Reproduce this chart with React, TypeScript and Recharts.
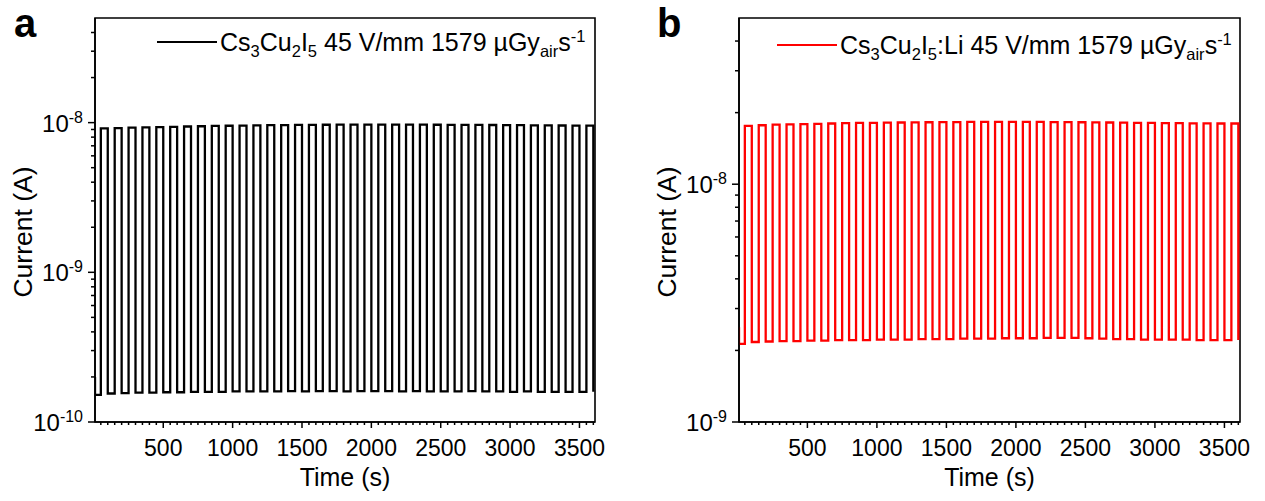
import React from 'react'
import { LineChart, Line, XAxis, YAxis, Legend, ReferenceArea } from 'recharts'

// x-ray on/off schedule (s)
const traceStartTime = 8
const pulseOnTimes = [
  50, 150, 250, 350, 450, 550, 650, 750, 850, 950, 1050, 1150,
  1250, 1350, 1450, 1550, 1650, 1750, 1850, 1950, 2050, 2150, 2250, 2350,
  2450, 2550, 2650, 2750, 2850, 2950, 3050, 3150, 3250, 3350, 3450, 3550
]
const pulseOffTimes = [
  100, 200, 300, 400, 500, 600, 700, 800, 900, 1000, 1100, 1200,
  1300, 1400, 1500, 1600, 1700, 1800, 1900, 2000, 2100, 2200, 2300, 2400,
  2500, 2600, 2700, 2800, 2900, 3000, 3100, 3200, 3300, 3400, 3500, 3600
]

// panel a: Cs3Cu2I5 (A)
const aStartCurrent = 2.0e-10
const aPulseCurrent = [
  9.15e-9, 9.2e-9, 9.25e-9, 9.3e-9, 9.34e-9, 9.38e-9, 9.42e-9, 9.46e-9, 9.5e-9, 9.53e-9, 9.56e-9, 9.59e-9,
  9.61e-9, 9.63e-9, 9.65e-9, 9.67e-9, 9.68e-9, 9.69e-9, 9.7e-9, 9.7e-9, 9.7e-9, 9.7e-9, 9.69e-9, 9.69e-9,
  9.68e-9, 9.67e-9, 9.66e-9, 9.65e-9, 9.64e-9, 9.62e-9, 9.61e-9, 9.6e-9, 9.58e-9, 9.57e-9, 9.56e-9, 9.55e-9
]
const aBaseCurrent = [
  1.52e-10, 1.55e-10, 1.56e-10, 1.57e-10, 1.57e-10, 1.58e-10, 1.58e-10, 1.59e-10, 1.59e-10, 1.59e-10,
  1.6e-10, 1.6e-10, 1.6e-10, 1.6e-10, 1.61e-10, 1.6e-10, 1.61e-10, 1.61e-10, 1.6e-10, 1.61e-10,
  1.61e-10, 1.61e-10, 1.6e-10, 1.61e-10, 1.6e-10, 1.6e-10, 1.6e-10, 1.61e-10, 1.6e-10, 1.6e-10,
  1.59e-10, 1.6e-10, 1.59e-10, 1.59e-10, 1.59e-10, 1.59e-10, 1.59e-10
]

// panel b: Cs3Cu2I5:Li (A)
const bStartCurrent = 2.5e-9
const bPulseCurrent = [
  1.76e-8, 1.77e-8, 1.78e-8, 1.785e-8, 1.79e-8, 1.795e-8, 1.8e-8, 1.805e-8, 1.81e-8, 1.812e-8, 1.815e-8, 1.818e-8,
  1.82e-8, 1.822e-8, 1.824e-8, 1.826e-8, 1.828e-8, 1.83e-8, 1.83e-8, 1.83e-8, 1.83e-8, 1.828e-8, 1.826e-8, 1.824e-8,
  1.822e-8, 1.82e-8, 1.818e-8, 1.815e-8, 1.812e-8, 1.81e-8, 1.808e-8, 1.806e-8, 1.804e-8, 1.802e-8, 1.8e-8, 1.8e-8
]
const bBaseCurrent = [
  2.13e-9, 2.17e-9, 2.18e-9, 2.19e-9, 2.19e-9, 2.2e-9, 2.2e-9, 2.21e-9, 2.21e-9, 2.21e-9,
  2.22e-9, 2.22e-9, 2.22e-9, 2.23e-9, 2.23e-9, 2.23e-9, 2.24e-9, 2.24e-9, 2.24e-9, 2.25e-9,
  2.25e-9, 2.25e-9, 2.26e-9, 2.26e-9, 2.26e-9, 2.25e-9, 2.24e-9, 2.23e-9, 2.23e-9, 2.22e-9,
  2.22e-9, 2.22e-9, 2.22e-9, 2.21e-9, 2.21e-9, 2.21e-9, 2.21e-9
]

// axes
const xDomain = [8, 3612]
const xMajorTicks = [500, 1000, 1500, 2000, 2500, 3000, 3500]
const xMinorTicks = pulseOnTimes.concat(pulseOffTimes).filter(t => !xMajorTicks.includes(t))
const xTicks = xMajorTicks.concat(xMinorTicks).sort((p, q) => p - q)

const aYDomain = [1e-10, 5e-8]
const aYMajorTicks = [1e-10, 1e-9, 1e-8]
const aYExponents = ['-10', '-9', '-8']
const aYMinorTicks = [2e-10, 3e-10, 4e-10, 5e-10, 6e-10, 7e-10, 8e-10, 9e-10, 2e-9, 3e-9, 4e-9, 5e-9, 6e-9, 7e-9, 8e-9, 9e-9, 2e-8, 3e-8, 4e-8]

const bYDomain = [1e-9, 5e-8]
const bYMajorTicks = [1e-9, 1e-8]
const bYExponents = ['-9', '-8']
const bYMinorTicks = [2e-9, 3e-9, 4e-9, 5e-9, 6e-9, 7e-9, 8e-9, 9e-9, 2e-8, 3e-8, 4e-8]

const FONT = '"Liberation Sans", Arial, Helvetica, sans-serif'
const axisStroke = { stroke: '#000', strokeWidth: 1.6 }

function buildTrace(startCurrent: number, pulse: number[], base: number[]) {
  const pts = [
    { time: traceStartTime, current: startCurrent },
    { time: traceStartTime, current: base[0] }
  ]
  pulseOnTimes.forEach((tOn, i) => {
    pts.push({ time: tOn, current: base[i] })
    pts.push({ time: tOn, current: pulse[i] })
    pts.push({ time: pulseOffTimes[i], current: pulse[i] })
    pts.push({ time: pulseOffTimes[i], current: base[i + 1] })
  })
  return pts
}

const aTrace = buildTrace(aStartCurrent, aPulseCurrent, aBaseCurrent)
const bTrace = buildTrace(bStartCurrent, bPulseCurrent, bBaseCurrent)

const XTick = (props: any) => {
  const { x, y, payload } = props
  const major = xMajorTicks.includes(payload.value)
  return (
    <g>
      <line x1={x} x2={x} y1={y} y2={y + (major ? 6 : 3)} stroke="#000" strokeWidth={1.5} />
      {major && (
        <text x={x} y={y + 34} textAnchor="middle" fontSize={23} fill="#000" fontFamily={FONT}>
          {payload.value}
        </text>
      )}
    </g>
  )
}

const makeYTick = (majors: number[], exponents: string[]) => (props: any) => {
  const { x, y, payload } = props
  const idx = majors.indexOf(payload.value)
  const major = idx >= 0
  return (
    <g>
      <line x1={x} x2={x - (major ? 7 : 4)} y1={y} y2={y} stroke="#000" strokeWidth={1.5} />
      {major && (
        <text x={x - 12} y={y + 9} textAnchor="end" fontSize={24} fill="#000" fontFamily={FONT}>
          10<tspan dy={-9} fontSize={16}>{exponents[idx]}</tspan>
        </text>
      )}
    </g>
  )
}

const xTitle = (props: any) => {
  const vb = props.viewBox
  return (
    <text x={vb.x + vb.width / 2} y={vb.y + 64} textAnchor="middle" fontSize={25} fill="#000" fontFamily={FONT}>
      Time (s)
    </text>
  )
}

const yTitle = (props: any) => {
  const vb = props.viewBox
  const cx = vb.x + vb.width - 63
  const cy = 232
  return (
    <text x={cx} y={cy} transform={`rotate(-90, ${cx}, ${cy})`} textAnchor="middle" fontSize={26.5} fill="#000" fontFamily={FONT}>
      Current (A)
    </text>
  )
}

function LegendBox({ color, doped }: { color: string; doped: boolean }) {
  return (
    <svg width={480} height={50} style={{ overflow: 'visible' }}>
      <line x1={2} x2={62} y1={22} y2={22} stroke={color} strokeWidth={2.2} />
      <text x={65} y={31} fontSize={25} fill="#000" fontFamily={FONT}>
        Cs<tspan dy={6} fontSize={16.5}>3</tspan>
        <tspan dy={-6}>Cu</tspan>
        <tspan dy={6} fontSize={16.5}>2</tspan>
        <tspan dy={-6}>I</tspan>
        <tspan dy={6} fontSize={16.5}>5</tspan>
        <tspan dy={-6}>{doped ? ':Li 45 V/mm 1579 µGy' : ' 45 V/mm 1579 µGy'}</tspan>
        <tspan dy={6} fontSize={16.5}>air</tspan>
        <tspan dy={-6}>s</tspan>
        <tspan dy={-9} fontSize={16.5}>-1</tspan>
      </text>
    </svg>
  )
}

function Panel(props: {
  data: { time: number; current: number }[]
  color: string
  doped: boolean
  yDomain: number[]
  yMajor: number[]
  yMinor: number[]
  yExp: string[]
  width: number
  axisWidth: number
  rightMargin: number
  legendLeft: number
  legendTop: number
}) {
  const yTicks = props.yMajor.concat(props.yMinor).sort((p, q) => p - q)
  return (
    <LineChart
      width={props.width}
      height={501}
      data={props.data}
      margin={{ top: 18, right: props.rightMargin, bottom: 0, left: 0 }}
    >
      <XAxis
        dataKey="time"
        type="number"
        domain={xDomain}
        allowDataOverflow
        ticks={xTicks}
        interval={0}
        tick={XTick}
        tickLine={false}
        tickSize={0}
        tickMargin={0}
        height={79}
        axisLine={axisStroke}
        label={xTitle}
      />
      <YAxis
        scale="log"
        type="number"
        domain={props.yDomain}
        allowDataOverflow
        ticks={yTicks}
        interval={0}
        tick={makeYTick(props.yMajor, props.yExp)}
        tickLine={false}
        tickSize={0}
        tickMargin={0}
        width={props.axisWidth}
        axisLine={axisStroke}
        label={yTitle}
      />
      <ReferenceArea
        x1={xDomain[0]}
        x2={xDomain[1]}
        y1={props.yDomain[0]}
        y2={props.yDomain[1]}
        fill="none"
        fillOpacity={0}
        stroke="#000"
        strokeWidth={1.6}
        ifOverflow="visible"
      />
      <Legend
        layout="vertical"
        align="center"
        verticalAlign="middle"
        wrapperStyle={{ left: props.legendLeft, top: props.legendTop, width: 480, height: 50 }}
        content={() => <LegendBox color={props.color} doped={props.doped} />}
      />
      <Line
        type="linear"
        dataKey="current"
        stroke={props.color}
        strokeWidth={2.3}
        dot={false}
        activeDot={false}
        isAnimationActive={false}
      />
    </LineChart>
  )
}

export default function App() {
  return (
    <div style={{ position: 'absolute', left: 0, top: 0, width: 1265, height: 501, background: '#fff', fontFamily: FONT }}>
      <div style={{ position: 'absolute', left: 0, top: 0 }}>
        <Panel
          data={aTrace}
          color="#000000"
          doped={false}
          yDomain={aYDomain}
          yMajor={aYMajorTicks}
          yMinor={aYMinorTicks}
          yExp={aYExponents}
          width={632}
          axisWidth={95}
          rightMargin={37}
          legendLeft={155}
          legendTop={20}
        />
      </div>
      <div style={{ position: 'absolute', left: 632, top: 0 }}>
        <Panel
          data={bTrace}
          color="#ff0000"
          doped={true}
          yDomain={bYDomain}
          yMajor={bYMajorTicks}
          yMinor={bYMinorTicks}
          yExp={bYExponents}
          width={633}
          axisWidth={107}
          rightMargin={25}
          legendLeft={143}
          legendTop={23}
        />
      </div>
      <div style={{ position: 'absolute', left: 14, top: 3, fontSize: 40, fontWeight: 'bold', lineHeight: '40px' }}>a</div>
      <div style={{ position: 'absolute', left: 657, top: 3, fontSize: 40, fontWeight: 'bold', lineHeight: '40px' }}>b</div>
    </div>
  )
}
